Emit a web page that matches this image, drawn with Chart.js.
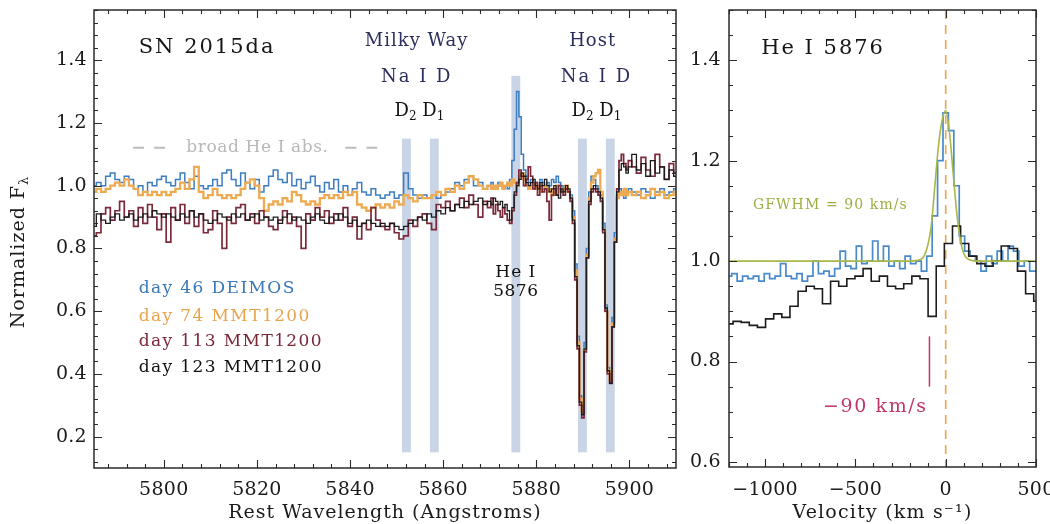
<!DOCTYPE html>
<html><head><meta charset="utf-8">
<script src="https://cdn.jsdelivr.net/npm/chart.js@4"></script>
<style>
html,body{margin:0;padding:0;background:#fff;}
#wrap{position:relative;width:1050px;height:524px;overflow:hidden;background:#fff;}
#left{position:absolute;left:0;top:0;width:690px;height:524px;}
#right{position:absolute;left:690px;top:0;width:360px;height:524px;}
</style></head><body>
<div id="wrap"><canvas id="left" width="690" height="524"></canvas><canvas id="right" width="360" height="524"></canvas></div>
<script>
// ---------------- DATA ----------------
// Left panel wavelength grid (Angstroms): 1 A bins, 0.5 A bins around the lines, 1 A bins at the end
const gridStart = 5785, gridMidStart = 5870.5, gridMidEnd = 5900, gridEnd = 5910;
const waveGrid = [];
for (let w = gridStart; w <= 5870; w += 1) waveGrid.push(w);
for (let i = 0; gridMidStart + i * 0.5 <= gridMidEnd; i++) waveGrid.push(gridMidStart + i * 0.5);
for (let w = 5901; w <= gridEnd; w += 1) waveGrid.push(w);

const fluxDay46 = [
  1.00,1.01,1.00,1.03,1.04,1.02,1.01,1.03,1.02,0.99,
  1.00,0.98,1.01,1.00,1.02,1.03,1.01,1.00,1.02,1.04,
  1.01,0.99,1.03,1.00,0.99,1.00,1.02,1.00,1.04,1.05,
  1.02,1.00,1.04,1.01,0.99,1.02,0.98,1.00,1.03,1.05,
  1.02,1.01,1.04,1.00,1.02,0.99,1.01,1.03,1.00,0.98,
  1.01,0.99,1.02,0.98,1.00,0.97,0.99,1.01,0.98,0.97,
  0.99,0.97,0.96,0.97,0.98,0.96,0.97,1.04,0.99,0.97,
  0.96,0.97,0.96,0.97,0.96,0.97,0.98,0.99,1.01,1.00,
  1.02,1.03,1.00,1.01,0.99,1.00,
  1.01,1.00,0.99,1.01,1.00,0.99,1.00,0.99,1.02,1.08,
  1.18,1.30,1.22,1.10,1.05,1.03,1.01,1.02,1.00,1.01,
  1.00,1.02,1.01,1.00,1.01,1.00,1.02,1.01,1.03,1.01,
  1.00,0.99,1.00,0.98,0.97,0.92,0.75,0.52,0.33,0.27,
  0.50,0.80,0.98,1.03,1.02,1.00,0.99,0.97,0.88,0.62,
  0.42,0.37,0.58,0.85,0.97,0.99,0.98,0.96,0.98,0.99,
  0.98,0.97,0.99,0.98,0.96,0.98,0.99,0.97,0.98,0.99
];
const fluxDay74 = [
  0.98,0.99,0.98,0.99,1.00,1.01,1.00,1.02,1.00,0.99,
  0.97,0.98,0.97,0.98,0.97,0.98,0.97,0.98,0.99,1.01,
  0.99,1.02,1.06,0.98,0.96,0.97,0.99,0.97,0.96,0.97,
  0.96,0.97,0.99,1.01,1.02,1.00,0.96,0.92,0.94,0.95,
  0.94,0.96,0.95,0.98,0.97,0.95,0.94,0.95,0.94,0.96,
  0.97,0.96,0.97,0.96,0.98,0.97,0.98,0.94,0.93,0.92,
  0.93,0.94,0.93,0.94,0.93,0.95,0.94,0.97,0.96,0.95,
  0.97,0.96,0.96,0.97,0.98,0.97,0.99,0.98,1.00,0.99,
  1.01,1.03,1.02,1.00,0.99,1.00,
  0.99,1.00,0.99,1.00,1.01,0.99,1.00,1.01,1.00,1.02,
  1.01,1.00,1.03,1.04,1.02,1.00,0.99,1.00,1.01,0.99,
  1.00,0.98,0.99,1.00,0.98,0.99,0.97,0.98,1.00,0.99,
  0.98,0.99,1.00,0.98,0.96,0.90,0.73,0.50,0.32,0.28,
  0.48,0.78,0.96,1.01,1.03,1.04,1.05,0.98,0.86,0.60,
  0.41,0.38,0.56,0.83,0.96,0.98,0.97,0.99,0.97,0.98,
  0.97,0.98,0.96,0.97,0.99,0.97,0.98,0.96,0.97,0.98
];
const fluxDay113 = [
  0.84,0.85,0.91,0.93,0.89,0.92,0.95,0.90,0.92,0.87,
  0.93,0.88,0.94,0.90,0.86,0.91,0.82,0.93,0.89,0.94,
  0.88,0.92,0.87,0.91,0.85,0.86,0.92,0.88,0.80,0.90,
  0.88,0.93,0.94,0.89,0.91,0.88,0.92,0.90,0.87,0.86,
  0.89,0.92,0.88,0.90,0.87,0.80,0.91,0.89,0.93,0.90,
  0.92,0.88,0.91,0.89,0.93,0.87,0.90,0.83,0.88,0.86,
  0.93,0.89,0.87,0.86,0.88,0.85,0.83,0.84,0.89,0.87,
  0.90,0.91,0.88,0.86,0.94,0.93,0.95,0.92,0.94,0.96,
  0.93,0.97,0.94,0.90,0.95,0.93,
  0.96,0.91,0.94,0.92,0.90,0.93,0.91,0.89,0.88,0.92,
  0.97,1.01,1.05,1.03,1.00,1.02,1.06,1.03,0.99,1.01,
  0.97,1.00,0.98,0.99,0.95,0.89,0.97,0.99,0.97,1.00,
  0.98,0.97,0.99,0.98,0.95,0.88,0.70,0.48,0.30,0.26,
  0.47,0.77,0.94,0.98,0.99,0.98,0.97,0.95,0.85,0.60,
  0.40,0.37,0.55,0.82,0.99,1.08,1.10,1.07,1.05,1.08,
  1.06,1.04,1.09,1.05,1.03,1.10,1.06,1.02,1.07,1.04
];
const fluxDay123 = [
  0.87,0.91,0.89,0.88,0.90,0.91,0.89,0.90,0.91,0.89,
  0.90,0.91,0.90,0.92,0.91,0.90,0.91,0.90,0.89,0.91,
  0.90,0.92,0.90,0.91,0.89,0.88,0.89,0.91,0.90,0.89,
  0.91,0.90,0.91,0.89,0.90,0.91,0.89,0.90,0.89,0.90,
  0.88,0.90,0.91,0.89,0.90,0.89,0.88,0.90,0.91,0.89,
  0.88,0.90,0.89,0.91,0.90,0.88,0.89,0.87,0.88,0.89,
  0.88,0.87,0.88,0.87,0.88,0.87,0.86,0.87,0.88,0.89,
  0.90,0.89,0.91,0.90,0.92,0.91,0.93,0.92,0.94,0.93,
  0.95,0.94,0.95,0.96,0.94,0.95,
  0.94,0.96,0.95,0.94,0.95,0.93,0.94,0.92,0.89,0.93,
  0.98,1.00,1.02,1.04,1.03,1.01,1.00,1.01,1.02,1.00,
  0.99,1.01,1.00,1.02,1.00,0.98,0.99,1.00,0.97,0.96,
  0.99,0.98,1.00,0.99,0.96,0.89,0.71,0.49,0.31,0.27,
  0.48,0.77,0.95,0.99,1.00,0.99,0.98,0.96,0.86,0.61,
  0.41,0.37,0.55,0.82,0.98,1.05,1.07,1.06,1.04,1.06,
  1.10,1.05,1.07,1.03,1.08,1.04,1.06,1.02,1.05,1.03
];
const seriesLabels = ['day 46 DEIMOS', 'day 74 MMT1200', 'day 113 MMT1200', 'day 123 MMT1200'];
const seriesColors = ['#3b7dc0', '#eeaa50', '#7b2a3a', '#1c1c1c'];

// absorption / emission line bands (Angstrom centres) and their top values
const bandCenters = [5852.1, 5858.1, 5875.6, 5889.9, 5895.9];
const bandTops = [1.15, 1.15, 1.35, 1.15, 1.15];
const bandBottom = 0.15, bandWidth = 1.9;

const leftXTicks = [5800, 5820, 5840, 5860, 5880, 5900];
const leftYTicks = [0.2, 0.4, 0.6, 0.8, 1.0, 1.2, 1.4];

// Right panel: velocity grids (km/s)
const velBlueStart = -1200, velBlueStep = 30;
const velBlackStart = -1200, velBlackStep = 45;
const velBlueFlux = [
  0.97,0.975,0.96,0.97,0.965,0.97,0.96,0.975,0.965,0.97,
  0.995,0.97,0.965,0.975,0.96,0.97,1.00,0.975,0.98,0.97,
  0.985,1.02,0.99,0.985,1.03,0.995,1.00,1.04,1.00,1.03,
  0.99,1.00,0.985,1.01,0.995,1.00,0.98,1.01,1.09,1.20,
  1.295,1.26,1.15,1.05,1.02,1.01,1.00,0.98,1.01,0.995,
  1.02,1.00,1.03,1.02,0.99,1.00,0.98,0.98
];
const velBlackFlux = [
  0.875,0.88,0.878,0.872,0.868,0.885,0.895,0.888,0.91,0.94,
  0.95,0.945,0.915,0.96,0.95,0.965,0.97,0.985,0.96,0.97,
  0.95,0.945,0.955,0.97,0.965,0.89,0.99,1.035,1.07,1.035,
  1.01,0.995,0.99,1.00,1.03,1.025,0.98,0.935,0.92
];
const fitVel = [-1200,-300,-200,-140,-120,-100,-80,-60,-40,-20,0,20,40,60,80,100,120,150,200,500];
const fitFlux = [1.0,1.0,1.0,1.003,1.01,1.03,1.07,1.15,1.23,1.28,1.30,1.26,1.18,1.10,1.045,1.015,1.005,1.001,1.0,1.0];
const rightXTicks = [-1000, -500, 0, 500];
const rightYTicks = [0.6, 0.8, 1.0, 1.2, 1.4];

// ---------------- HELPERS ----------------
const SERIF = '"DejaVu Serif", "Liberation Serif", serif';
function txt(ctx, s, x, y, size, color, align, spacing) {
  ctx.save();
  ctx.font = size + 'px ' + SERIF;
  ctx.fillStyle = color;
  ctx.textAlign = align || 'left';
  ctx.textBaseline = 'middle';
  if ('letterSpacing' in ctx) ctx.letterSpacing = (spacing || 0) + 'px';
  ctx.fillText(s, x, y);
  ctx.restore();
}
// "D2 D1" with real subscripts
function txtSub(ctx, parts, cx, cy, size, subSize, color) {
  ctx.save();
  ctx.fillStyle = color; ctx.textBaseline = 'middle'; ctx.textAlign = 'left';
  let total = 0;
  const widths = parts.map(p => { ctx.font = (p.sub ? subSize : size) + 'px ' + SERIF; const w = ctx.measureText(p.t).width; total += w; return w; });
  let xx = cx - total / 2;
  parts.forEach((p, i) => {
    ctx.font = (p.sub ? subSize : size) + 'px ' + SERIF;
    ctx.fillText(p.t, xx, cy + (p.sub ? size * 0.3 : 0));
    xx += widths[i];
  });
  ctx.restore();
}
function drawFrame(chart, xMinorStep, yMinorStep, xFmt, yLabPad, xLabOff) {
  const {ctx, chartArea: a, scales: {x, y}} = chart;
  ctx.save();
  ctx.strokeStyle = '#2a2a2a';
  ctx.lineWidth = 1.5;
  ctx.strokeRect(a.left, a.top, a.right - a.left, a.bottom - a.top);
  const majX = x.ticks.map(t => t.value), majY = y.ticks.map(t => t.value);
  ctx.lineWidth = 1.1;
  ctx.beginPath();
  for (let i = Math.ceil(x.min / xMinorStep); i * xMinorStep <= x.max; i++) {
    const v = i * xMinorStep;
    const major = majX.some(m => Math.abs(m - v) < xMinorStep * 1e-3);
    const L = major ? 8 : 4;
    const px = Math.round(x.getPixelForValue(v)) + 0.5;
    ctx.moveTo(px, a.bottom); ctx.lineTo(px, a.bottom - L);
    ctx.moveTo(px, a.top); ctx.lineTo(px, a.top + L);
  }
  for (let i = Math.ceil(y.min / yMinorStep - 1e-6); i * yMinorStep <= y.max + 1e-9; i++) {
    const v = i * yMinorStep;
    const major = majY.some(m => Math.abs(m - v) < yMinorStep * 1e-3);
    const L = major ? 8 : 4;
    const py = Math.round(y.getPixelForValue(v)) + 0.5;
    ctx.moveTo(a.left, py); ctx.lineTo(a.left + L, py);
    ctx.moveTo(a.right, py); ctx.lineTo(a.right - L, py);
  }
  ctx.stroke();
  ctx.restore();
  // tick labels
  majX.forEach(v => txt(ctx, xFmt(v), x.getPixelForValue(v), a.bottom + xLabOff, 19, '#1a1a1a', 'center', 0.3));
  majY.forEach(v => txt(ctx, v.toFixed(1), a.left - yLabPad, y.getPixelForValue(v), 19, '#1a1a1a', 'right', 0.3));
}
function pts(xs, ys) { return xs.map((v, i) => ({x: v, y: ys[i]})); }
function grid(start, step, n) { const g = []; for (let i = 0; i < n; i++) g.push(start + i * step); return g; }

function axisX(min, max, ticks, height) {
  return {type: 'linear', min, max, grid: {display: false}, border: {display: false},
    afterBuildTicks: s => { s.ticks = ticks.map(v => ({value: v})); },
    afterFit: s => { s.height = height; },
    ticks: {display: false}};
}
function axisY(min, max, ticks, width) {
  return {type: 'linear', min, max, grid: {display: false}, border: {display: false},
    afterBuildTicks: s => { s.ticks = ticks.map(v => ({value: v})); },
    afterFit: s => { s.width = width; },
    ticks: {display: false}};
}

// ---------------- LEFT CHART ----------------
const leftFluxes = [fluxDay46, fluxDay74, fluxDay113, fluxDay123];
const leftWidths = [1.5, 2.3, 1.7, 1.3];
const leftDatasets = leftFluxes.map((f, i) => ({
  label: seriesLabels[i], data: pts(waveGrid, f), borderColor: seriesColors[i],
  borderWidth: leftWidths[i], stepped: 'middle', pointRadius: 0, fill: false, order: 4 - i
}));

const leftDecor = {
  id: 'leftDecor',
  beforeDatasetsDraw(chart) {
    const {ctx, scales: {x, y}} = chart;
    ctx.save();
    ctx.fillStyle = '#c9d5e6';
    bandCenters.forEach((c, i) => {
      const x0 = x.getPixelForValue(c - bandWidth / 2), x1 = x.getPixelForValue(c + bandWidth / 2);
      const yT = y.getPixelForValue(bandTops[i]), yB = y.getPixelForValue(bandBottom);
      ctx.fillRect(x0, yT, x1 - x0, yB - yT);
    });
    ctx.restore();
  },
  afterDraw(chart) {
    const {ctx, chartArea: a, scales: {x, y}} = chart;
    drawFrame(chart, 4, 0.04, v => String(v), 7, 22);
    const X = v => x.getPixelForValue(v), Y = v => y.getPixelForValue(v);
    const navy = '#2c2f5e';
    const dd = [{t: 'D'}, {t: '2', sub: true}, {t: ' D'}, {t: '1', sub: true}];
    txt(ctx, 'SN 2015da', X(5794.6), Y(1.44), 21, '#161616', 'left', 2);
    txt(ctx, 'Milky Way', X(5854.3), Y(1.459), 18, navy, 'center', 1);
    txt(ctx, 'Na I D', X(5854.3), Y(1.345), 18, navy, 'center', 2);
    txtSub(ctx, dd, X(5854.9), Y(1.236), 18, 12, '#111');
    txt(ctx, 'Host', X(5892.1), Y(1.459), 18, navy, 'center', 1);
    txt(ctx, 'Na I D', X(5892.9), Y(1.345), 18, navy, 'center', 2);
    txtSub(ctx, dd, X(5892.9), Y(1.236), 18, 12, '#111');
    txt(ctx, 'He I', X(5875.6), Y(0.722), 17, '#111', 'center', 1);
    txt(ctx, '5876', X(5875.6), Y(0.662), 17, '#111', 'center', 0.5);
    // broad He I absorption marker
    ctx.save();
    ctx.strokeStyle = '#bdbdbd'; ctx.lineWidth = 2; ctx.setLineDash([11, 10]);
    ctx.beginPath();
    ctx.moveTo(X(5793.4), Y(1.121)); ctx.lineTo(X(5800.9), Y(1.121));
    ctx.moveTo(X(5839.0), Y(1.121)); ctx.lineTo(X(5846.9), Y(1.121));
    ctx.stroke(); ctx.restore();
    txt(ctx, 'broad He I abs.', X(5820.1), Y(1.121), 17, '#b8b8b8', 'center', 0.6);
    // legend
    const legY = [0.671, 0.582, 0.502, 0.419];
    const legCol = ['#3a78b8', '#e8a54e', '#7a2838', '#111'];
    seriesLabels.forEach((s, i) => txt(ctx, s, X(5794.6), Y(legY[i]), 17, legCol[i], 'left', 1.4));
    // axis titles
    txt(ctx, 'Rest Wavelength (Angstroms)', (a.left + a.right) / 2, 513, 19, '#1a1a1a', 'center', 1);
    ctx.save();
    ctx.translate(19, 252);
    ctx.rotate(-Math.PI / 2);
    if ('letterSpacing' in ctx) ctx.letterSpacing = '1px';
    ctx.font = '19px ' + SERIF;
    const w1 = ctx.measureText('Normalized F').width;
    ctx.font = '13px ' + SERIF;
    const w2 = ctx.measureText('\u03bb').width;
    const sx = -(w1 + w2) / 2;
    ctx.fillStyle = '#1a1a1a'; ctx.textBaseline = 'middle'; ctx.textAlign = 'left';
    ctx.font = '19px ' + SERIF;
    ctx.fillText('Normalized F', sx, 0);
    ctx.font = '13px ' + SERIF;
    ctx.fillText('\u03bb', sx + w1, 6);
    ctx.restore();
  }
};

new Chart(document.getElementById('left'), {
  type: 'line',
  data: {datasets: leftDatasets},
  options: {
    responsive: false, animation: false, events: [],
    layout: {autoPadding: false, padding: {left: 0, right: 14, top: 10, bottom: 0}},
    elements: {line: {tension: 0}},
    plugins: {legend: {display: false}, tooltip: {enabled: false}},
    scales: {
      x: axisX(5785, 5910, leftXTicks, 56),
      y: axisY(0.1, 1.56, leftYTicks, 94)
    }
  },
  plugins: [leftDecor]
});

// ---------------- RIGHT CHART ----------------
const velBlueGrid = grid(velBlueStart, velBlueStep, velBlueFlux.length);
const velBlackGrid = grid(velBlackStart, velBlackStep, velBlackFlux.length);

const rightDecor = {
  id: 'rightDecor',
  beforeDatasetsDraw(chart) {
    const {ctx, chartArea: a, scales: {x, y}} = chart;
    ctx.save();
    ctx.strokeStyle = '#f0a548'; ctx.lineWidth = 1.6; ctx.setLineDash([9, 6]);
    ctx.beginPath();
    const px = x.getPixelForValue(0);
    ctx.moveTo(px, a.top); ctx.lineTo(px, a.bottom);
    ctx.stroke();
    ctx.restore();
  },
  afterDraw(chart) {
    const {ctx, chartArea: a, scales: {x, y}} = chart;
    drawFrame(chart, 100, 0.05, v => (v < 0 ? '\u2212' + Math.abs(v) : String(v)), 8, 23);
    const X = v => x.getPixelForValue(v), Y = v => y.getPixelForValue(v);
    txt(ctx, 'He I 5876', X(-1022), Y(1.423), 21, '#161616', 'left', 2);
    txt(ctx, 'GFWHM = 90 km/s', X(-1067), Y(1.110), 14, '#9caf42', 'left', 1.1);
    txt(ctx, '\u221290 km/s', X(-100), Y(0.709), 19, '#c2356b', 'right', 1.6);
    ctx.save();
    ctx.strokeStyle = '#c2356b'; ctx.lineWidth = 1.5;
    ctx.beginPath();
    ctx.moveTo(X(-90), Y(0.85)); ctx.lineTo(X(-90), Y(0.75));
    ctx.stroke(); ctx.restore();
    txt(ctx, 'Velocity (km s\u207b\u00b9)', (a.left + a.right) / 2, 513, 19, '#1a1a1a', 'center', 1.2);
  }
};

new Chart(document.getElementById('right'), {
  type: 'line',
  data: {datasets: [
    {label: 'Gaussian fit', data: pts(fitVel, fitFlux), borderColor: '#a8b846', borderWidth: 1.6,
     cubicInterpolationMode: 'monotone', pointRadius: 0, fill: false, order: 1},
    {label: seriesLabels[0], data: pts(velBlueGrid, velBlueFlux), borderColor: '#4a8acb', borderWidth: 1.7,
     stepped: 'middle', pointRadius: 0, fill: false, order: 3},
    {label: seriesLabels[3], data: pts(velBlackGrid, velBlackFlux), borderColor: '#1c1c1c', borderWidth: 1.6,
     stepped: 'middle', pointRadius: 0, fill: false, order: 2}
  ]},
  options: {
    responsive: false, animation: false, events: [],
    layout: {autoPadding: false, padding: {left: 0, right: 14, top: 10, bottom: 0}},
    plugins: {legend: {display: false}, tooltip: {enabled: false}},
    scales: {
      x: axisX(-1200, 500, rightXTicks, 57),
      y: axisY(0.59, 1.5, rightYTicks, 39)
    }
  },
  plugins: [rightDecor]
});
</script></body></html>
